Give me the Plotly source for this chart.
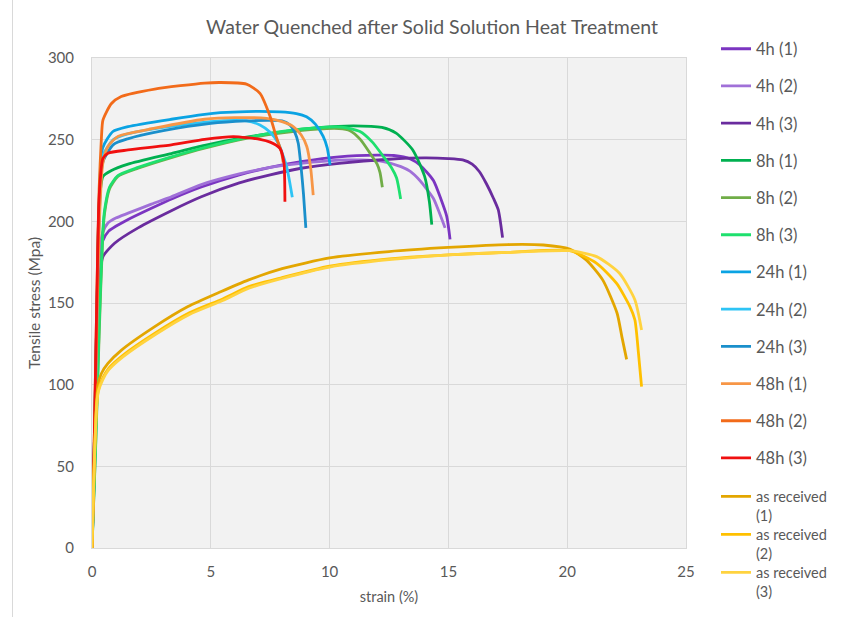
import plotly.graph_objects as go

# ---------------- data ----------------
names = ["4h (1)", "4h (2)", "4h (3)", "8h (1)", "8h (2)", "8h (3)",
         "24h (1)", "24h (2)", "24h (3)", "48h (1)", "48h (2)", "48h (3)",
         "as received (1)", "as received (2)", "as received (3)"]

strain_4h_1 = [0, 0.12, 0.22, 0.32, 0.45, 0.7, 1.0, 1.5, 2.5, 3.4, 4.6, 6.2, 7.5, 8.8, 10.4, 12.0, 12.7, 13.4, 13.8, 14.37, 14.7, 14.93, 15.07]
stress_4h_1 = [0, 60, 130, 175, 188, 194, 197, 201, 208, 214, 221, 228.5, 233, 236.5, 239.5, 240.5, 240.3, 238.2, 234.5, 225, 213, 203, 189]

strain_4h_2 = [0, 0.12, 0.22, 0.32, 0.45, 0.67, 1.0, 1.52, 2.5, 3.34, 4.6, 6.2, 7.5, 8.8, 10.4, 11.3, 12.26, 13.0, 13.38, 13.8, 14.37, 14.6, 14.86]
stress_4h_2 = [0, 60, 135, 182, 193, 199, 202, 205, 210.5, 215, 222.5, 229, 233, 235.5, 237.5, 237.6, 236.6, 233.5, 230.7, 225, 214, 206, 196]

strain_4h_3 = [0, 0.12, 0.22, 0.32, 0.46, 0.95, 1.94, 3.34, 4.6, 6.2, 7.5, 8.8, 10.4, 12.5, 14.0, 15.0, 15.6, 16.0, 16.3, 16.6, 16.9, 17.1, 17.28]
stress_4h_3 = [0, 55, 120, 165, 178.4, 186.6, 196, 206.5, 215, 223.5, 228.5, 232.5, 235.5, 238, 238.8, 238.4, 237.6, 235, 230.5, 223, 214, 207, 190]

strain_8h_1 = [0, 0.12, 0.22, 0.3, 0.46, 0.8, 1.52, 3.34, 4.74, 6.5, 8.0, 9.5, 11.0, 12.2, 12.8, 13.5, 14.0, 14.2, 14.3]
stress_8h_1 = [0, 70, 150, 210, 227.5, 231, 235, 241.5, 246.5, 251.5, 254.8, 257.3, 258.5, 257.5, 254, 243.7, 227.5, 212, 198]

strain_8h_2 = [0, 0.15, 0.3, 0.45, 0.53, 0.74, 1.09, 1.94, 3.34, 4.74, 6.5, 8.0, 9.5, 10.4, 10.86, 11.3, 11.7, 12.0, 12.12, 12.22]
stress_8h_2 = [0, 60, 130, 190, 205, 220, 227.5, 232.5, 239, 244.8, 250.8, 254.2, 256.5, 256.8, 255.5, 250, 241.7, 235, 230, 220.9]

strain_8h_3 = [0, 0.15, 0.3, 0.45, 0.53, 0.74, 1.09, 1.94, 3.34, 4.74, 6.5, 8.0, 9.5, 10.5, 11.28, 11.8, 12.26, 12.6, 12.82, 12.99]
stress_8h_3 = [0, 62, 135, 193, 207, 221, 228, 233, 239.5, 245.2, 251.2, 255, 257.3, 257.7, 255, 248.5, 239.8, 233, 226.5, 213.7]

strain_24h_1 = [0, 0.1, 0.2, 0.3, 0.45, 0.88, 1.52, 3.34, 4.74, 5.4, 6.5, 7.9, 8.6, 9.03, 9.4, 9.73, 9.9, 10.02]
stress_24h_1 = [0, 65, 140, 210, 245, 255, 258, 262.5, 265.5, 266.5, 267.2, 267, 266, 264, 259.5, 252, 245, 234.5]

strain_24h_2 = [0, 0.1, 0.2, 0.3, 0.45, 0.9, 1.5, 3.0, 5.0, 6.0, 6.5, 7.07, 7.5, 7.84, 8.19, 8.43]
stress_24h_2 = [0, 65, 140, 205, 240, 250, 253.5, 257.5, 261, 261.8, 261.5, 259, 254.5, 247.8, 233.5, 214.7]

strain_24h_3 = [0, 0.1, 0.2, 0.3, 0.45, 0.9, 1.5, 3.0, 5.0, 6.5, 7.5, 8.0, 8.33, 8.55, 8.68, 8.8, 8.9, 9.0]
stress_24h_3 = [0, 65, 140, 200, 236, 247, 250.5, 255.5, 260, 261.5, 261.8, 261.5, 259, 254, 247.8, 233, 217, 196]

strain_48h_1 = [0, 0.1, 0.2, 0.3, 0.45, 0.67, 1.09, 2.64, 4.74, 6.0, 7.35, 8.0, 8.47, 8.8, 9.04, 9.2, 9.31]
stress_48h_1 = [0, 60, 130, 195, 235, 245.8, 252, 257, 262.5, 263.5, 263, 261, 258, 253, 245.8, 233, 216]

strain_48h_2 = [0, 0.1, 0.2, 0.3, 0.4, 0.46, 0.81, 1.23, 2.64, 4.74, 5.4, 6.5, 7.07, 7.49, 7.77, 7.98, 8.05]
stress_48h_2 = [0, 70, 150, 220, 252, 262, 272, 276.4, 281, 284.6, 285, 284, 278.4, 264.5, 251, 242, 236]

strain_48h_3 = [0, 0.1, 0.2, 0.3, 0.46, 0.67, 1.52, 3.34, 4.74, 5.95, 7.07, 7.5, 7.91, 8.08, 8.11, 8.12]
stress_48h_3 = [0, 70, 150, 215, 238.6, 241.7, 243.7, 246.8, 250.2, 251.9, 250.2, 248.5, 244.7, 236, 225, 212]

strain_ar_1 = [0, 0.05, 0.12, 0.2, 0.25, 0.4, 0.67, 1.23, 2.64, 4.04, 5.44, 6.57, 8, 10, 12.5, 15, 17.5, 19.0, 20.1, 20.8, 21.5, 22.1, 22.3, 22.5]
stress_ar_1 = [0, 30, 65, 92, 100, 107, 113, 121, 135.5, 147.8, 157, 164, 171, 177.6, 181.5, 184, 185.8, 185.5, 183, 176.4, 164, 143.7, 129.4, 115.5]

strain_ar_2 = [0, 0.05, 0.12, 0.2, 0.27, 0.45, 0.7, 1.3, 2.7, 4.1, 5.5, 6.6, 8, 10, 12.5, 15, 17.5, 20.1, 21.24, 22.08, 22.64, 22.85, 23.0, 23.13]
stress_ar_2 = [0, 28, 62, 88, 97, 104, 110, 118, 132, 144, 152.5, 160, 165.5, 172.5, 177, 179.5, 181, 182, 174.3, 162, 147.8, 139.6, 119.2, 98.8]

strain_ar_3 = [0, 0.05, 0.12, 0.2, 0.27, 0.45, 0.7, 1.3, 2.7, 4.1, 5.5, 6.6, 8, 10, 12.5, 15, 17.5, 20.1, 21.24, 22.2, 22.85, 23.13]
stress_ar_3 = [0, 28, 62, 88, 96, 103, 109, 117, 131, 143, 151.5, 159, 165, 172, 176.5, 179.5, 181, 182, 178.4, 168.2, 151.9, 133.5]

x_ticks = [0, 5, 10, 15, 20, 25]
y_ticks = [0, 50, 100, 150, 200, 250, 300]

# ---------------- styling ----------------
colors = ["#7B35C1", "#A070D8", "#6A2C9E",
          "#00B050", "#70AD47", "#1EE06E",
          "#0AA3E3", "#2EC4F5", "#1A8FCB",
          "#F79646", "#F26B1A", "#F01010",
          "#E3A600", "#FFC000", "#FFD33F"]

series = [
    (strain_4h_1, stress_4h_1), (strain_4h_2, stress_4h_2), (strain_4h_3, stress_4h_3),
    (strain_8h_1, stress_8h_1), (strain_8h_2, stress_8h_2), (strain_8h_3, stress_8h_3),
    (strain_24h_1, stress_24h_1), (strain_24h_2, stress_24h_2), (strain_24h_3, stress_24h_3),
    (strain_48h_1, stress_48h_1), (strain_48h_2, stress_48h_2), (strain_48h_3, stress_48h_3),
    (strain_ar_1, stress_ar_1), (strain_ar_2, stress_ar_2), (strain_ar_3, stress_ar_3),
]

FONT = "Lato, 'Open Sans', sans-serif"
GREY = "#595959"
GRID = "#d9d9d9"
LEG_FS = 16.5
LEG_FS2 = 14.5

W, H = 846, 617
L, R, T, B = 92, 160, 58, 69
PW, PH = W - L - R, H - T - B


def px_to_paper_x(px):
    return (px - L) / PW


def px_to_paper_y(py):
    return (H - B - py) / PH


fig = go.Figure()
for i, (name, (xs, ys), col) in enumerate(zip(names, series, colors)):
    if i < 12:
        legend = "legend"
        label = name
    else:
        legend = "legend" + str(i - 10)  # legend2..legend4
        label = name.replace("as received ", "as received<br>")
    fig.add_trace(go.Scatter(
        x=xs, y=ys, mode="lines", name=label,
        line=dict(color=col, width=2.8, shape="spline", smoothing=0.6),
        legend=legend, legendgroup="g%d" % i,
    ))


def leg(fs, top_px, **kw):
    return dict(
        font=dict(family=FONT, size=fs, color=GREY),
        bgcolor="rgba(0,0,0,0)", borderwidth=0,
        xanchor="left", yanchor="top", valign="top",
        x=px_to_paper_x(716), maxheight=590,
        y=px_to_paper_y(top_px), **kw)


fig.update_layout(
    width=W, height=H,
    margin=dict(l=L, r=R, t=T, b=B, autoexpand=False),
    paper_bgcolor="white",
    plot_bgcolor="#f2f2f2",
    font=dict(family=FONT, color=GREY, size=14),
    title=dict(text="Water Quenched after Solid Solution Heat Treatment",
               font=dict(family=FONT, size=19.5, color=GREY),
               x=432 / W, xref="container", xanchor="center",
               y=1 - 27 / H, yref="container", yanchor="middle"),
    xaxis=dict(range=[0, 25], tickvals=x_ticks, showgrid=True, gridcolor=GRID, gridwidth=1,
               zeroline=False, showline=True, linecolor=GRID, mirror=True,
               ticks="", ticklabelstandoff=10,
               tickfont=dict(family=FONT, size=15, color=GREY),
               title=dict(text="strain (%)", font=dict(family=FONT, size=14.5, color=GREY), standoff=12)),
    yaxis=dict(range=[0, 300], tickvals=y_ticks, showgrid=True, gridcolor=GRID, gridwidth=1,
               zeroline=False, showline=True, linecolor=GRID, mirror=True,
               ticks="", ticklabelstandoff=14,
               tickfont=dict(family=FONT, size=15, color=GREY),
               title=dict(text="Tensile stress (Mpa)", font=dict(family=FONT, size=15.5, color=GREY), standoff=3)),
    legend=leg(LEG_FS, 31.5, tracegroupgap=12.75),
    legend2=leg(LEG_FS2, 480.5),
    legend3=leg(LEG_FS2, 518.5),
    legend4=leg(LEG_FS2, 556.5),
    showlegend=True,
    shapes=[dict(type="line", xref="paper", yref="paper",
                 x0=px_to_paper_x(12.5), x1=px_to_paper_x(12.5),
                 y0=px_to_paper_y(H + 5), y1=px_to_paper_y(-5),
                 line=dict(color=GRID, width=1))],
)

fig.write_html("out.html")
